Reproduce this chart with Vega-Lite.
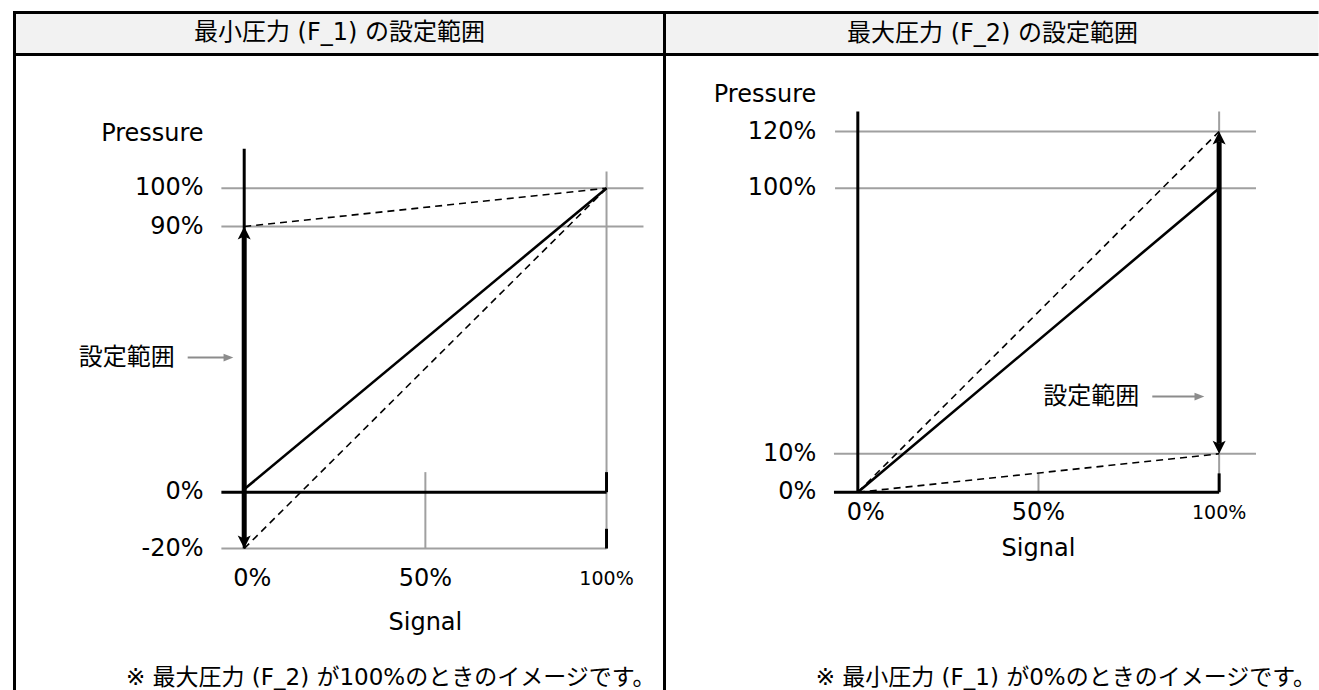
{
  "$schema": "https://vega.github.io/schema/vega-lite/v6.json",
  "usermeta": {"embedOptions": {"actions": false}},
  "padding": {"left": 11.5, "top": 9.5, "right": 0, "bottom": 0},
  "spacing": 0,
  "bounds": "flush",
  "config": {
    "view": {"stroke": null},
    "text": {"font": "DejaVu Sans, Noto Sans CJK JP", "color": "#000000", "fontSize": 24, "baseline": "middle"}
  },
  "datasets": {
    "L_header": [{"s1": -63.4, "s2": 116, "p1": 158, "p2": 144.1}],
    "L_header_text": [{"s": 26.3, "p": 151.1, "t": "最小圧力 (F_1) の設定範囲"}],
    "L_frame_h": [{"p": 158, "s1": -63.4, "s2": 116}, {"p": 144.1, "s1": -63.4, "s2": 116}],
    "L_frame_v": [{"s": -63.4, "p1": 158, "p2": -67}, {"s": 116, "p1": 158, "p2": -67}],
    "L_h_gray": [{"p": 100, "s1": -6.3, "s2": 110.2}, {"p": 90, "s1": -6.3, "s2": 110.2}, {"p": -20, "s1": -6.3, "s2": 100}],
    "L_v_gray": [{"s": 100, "p1": 105.5, "p2": -20}, {"s": 50, "p1": 6.8, "p2": -20}],
    "L_h_black": [{"p": 0, "s1": -6.3, "s2": 100}],
    "L_v_black": [{"s": 0, "p1": 113, "p2": -20}, {"s": 100, "p1": 6.8, "p2": 0}, {"s": 100, "p1": -13, "p2": -20}],
    "L_shaft": [{"s": 0, "p1": 87, "p2": -16.5}],
    "L_head_up": [{"s": 0, "p": 90}],
    "L_head_down": [{"s": 0, "p": -20}],
    "L_solid": [{"s": 0, "p": 1}, {"s": 100, "p": 100}],
    "L_dashed": [{"id": "a", "s": 0, "p": 90}, {"id": "a", "s": 100, "p": 100}, {"id": "b", "s": 0, "p": -20}, {"id": "b", "s": 100, "p": 100}],
    "L_ptr": [{"s1": -15.6, "s2": -5, "p": 45.6}],
    "L_ptr_head": [{"s": -3, "p": 45.6}],
    "L_ylab": [{"p": 100, "t": "100%"}, {"p": 90, "t": "90%"}, {"p": 0, "t": "0%"}, {"p": -20, "t": "-20%"}, {"p": 118, "t": "Pressure"}],
    "L_xlab0": [{"s": 0, "t": "0%"}],
    "L_xlab50": [{"s": 50, "t": "50%"}],
    "L_xlab100": [{"s": 100, "t": "100%"}],
    "L_signal": [{"s": 50, "p": -44.6, "t": "Signal"}],
    "L_range": [{"s": -19.2, "p": 45.6, "t": "設定範囲"}],
    "L_note": [{"s": 113.5, "p": -62.7, "t": "※ 最大圧力 (F_2) が100%のときのイメージです。"}],

    "R_header": [{"s1": -53.5, "s2": 127.5, "p1": 159.1, "p2": 145.3}],
    "R_header_text": [{"s": 37.3, "p": 152.2, "t": "最大圧力 (F_2) の設定範囲"}],
    "R_frame_h": [{"p": 159.1, "s1": -53.5, "s2": 127.5}, {"p": 145.3, "s1": -53.5, "s2": 127.5}],
    "R_frame_v": [{"s": -53.5, "p1": 159.1, "p2": -65.6}],
    "R_h_gray": [{"p": 120, "s1": -6.3, "s2": 110.2}, {"p": 100, "s1": -6.3, "s2": 110.2}, {"p": 10, "s1": -6.6, "s2": 110.2}],
    "R_v_gray": [{"s": 100, "p1": 126.6, "p2": 0}, {"s": 50, "p1": 4.9, "p2": 0}],
    "R_h_black": [{"p": 0, "s1": -6.6, "s2": 100}],
    "R_v_black": [{"s": 0, "p1": 126.6, "p2": 0}, {"s": 100, "p1": 4.9, "p2": 0}],
    "R_shaft": [{"s": 100, "p1": 116.5, "p2": 13.4}],
    "R_head_up": [{"s": 100, "p": 120}],
    "R_head_down": [{"s": 100, "p": 10}],
    "R_solid": [{"s": 0, "p": 0}, {"s": 100, "p": 100}],
    "R_dashed": [{"id": "a", "s": 0, "p": 0}, {"id": "a", "s": 100, "p": 120}, {"id": "b", "s": 0, "p": 0}, {"id": "b", "s": 100, "p": 10}],
    "R_ptr": [{"s1": 81.5, "s2": 94, "p": 29.4}],
    "R_ptr_head": [{"s": 95.9, "p": 29.4}],
    "R_ylab": [{"p": 120, "t": "120%"}, {"p": 100, "t": "100%"}, {"p": 10, "t": "10%"}, {"p": 0, "t": "0%"}, {"p": 132.1, "t": "Pressure"}],
    "R_xlab0": [{"s": 0, "t": "0%"}],
    "R_xlab50": [{"s": 50, "t": "50%"}],
    "R_xlab100": [{"s": 100, "t": "100%"}],
    "R_signal": [{"s": 50, "p": -18.8, "t": "Signal"}],
    "R_range": [{"s": 77.9, "p": 29.4, "t": "設定範囲"}],
    "R_note": [{"s": 126.8, "p": -61.3, "t": "※ 最小圧力 (F_1) が0%のときのイメージです。"}]
  },
  "hconcat": [
    {
      "width": 650,
      "height": 679,
      "layer": [
        {
          "data": {"name": "L_header"},
          "mark": {"type": "rect", "color": "#f2f2f2"},
          "encoding": {
            "x": {"field": "s1", "type": "quantitative", "axis": null, "scale": {"domain": [-63.4, 116], "nice": false, "zero": false}},
            "x2": {"field": "s2"},
            "y": {"field": "p1", "type": "quantitative", "axis": null, "scale": {"domain": [-67, -20, 0, 90, 100, 158], "range": [679, 536, 479.7, 214, 175.7, 0], "nice": false, "zero": false}},
            "y2": {"field": "p2"}
          }
        },
        {
          "data": {"name": "L_header_text"},
          "mark": {"type": "text", "align": "center", "fontSize": 24},
          "encoding": {"x": {"field": "s", "type": "quantitative", "axis": null}, "y": {"field": "p", "type": "quantitative", "axis": null}, "text": {"field": "t"}}
        },
        {
          "data": {"name": "L_h_gray"},
          "mark": {"type": "rule", "color": "#a0a0a0", "strokeWidth": 2},
          "encoding": {"x": {"field": "s1", "type": "quantitative", "axis": null}, "x2": {"field": "s2"}, "y": {"field": "p", "type": "quantitative", "axis": null}}
        },
        {
          "data": {"name": "L_v_gray"},
          "mark": {"type": "rule", "color": "#a0a0a0", "strokeWidth": 2},
          "encoding": {"x": {"field": "s", "type": "quantitative", "axis": null}, "y": {"field": "p1", "type": "quantitative", "axis": null}, "y2": {"field": "p2"}}
        },
        {
          "data": {"name": "L_h_black"},
          "mark": {"type": "rule", "color": "#000000", "strokeWidth": 3},
          "encoding": {"x": {"field": "s1", "type": "quantitative", "axis": null}, "x2": {"field": "s2"}, "y": {"field": "p", "type": "quantitative", "axis": null}}
        },
        {
          "data": {"name": "L_v_black"},
          "mark": {"type": "rule", "color": "#000000", "strokeWidth": 3},
          "encoding": {"x": {"field": "s", "type": "quantitative", "axis": null}, "y": {"field": "p1", "type": "quantitative", "axis": null}, "y2": {"field": "p2"}}
        },
        {
          "data": {"name": "L_dashed"},
          "mark": {"type": "line", "color": "#000000", "strokeWidth": 1.6, "strokeDash": [7, 5]},
          "encoding": {"x": {"field": "s", "type": "quantitative", "axis": null}, "y": {"field": "p", "type": "quantitative", "axis": null}, "detail": {"field": "id"}}
        },
        {
          "data": {"name": "L_solid"},
          "mark": {"type": "line", "color": "#000000", "strokeWidth": 2.6},
          "encoding": {"x": {"field": "s", "type": "quantitative", "axis": null}, "y": {"field": "p", "type": "quantitative", "axis": null}}
        },
        {
          "data": {"name": "L_shaft"},
          "mark": {"type": "rule", "color": "#000000", "strokeWidth": 5},
          "encoding": {"x": {"field": "s", "type": "quantitative", "axis": null}, "y": {"field": "p1", "type": "quantitative", "axis": null}, "y2": {"field": "p2"}}
        },
        {
          "data": {"name": "L_head_up"},
          "mark": {"type": "point", "shape": "M0,0L-0.65,1.3L0,1L0.65,1.3Z", "filled": true, "size": 400, "color": "#000000", "opacity": 1, "strokeWidth": 0},
          "encoding": {"x": {"field": "s", "type": "quantitative", "axis": null}, "y": {"field": "p", "type": "quantitative", "axis": null}}
        },
        {
          "data": {"name": "L_head_down"},
          "mark": {"type": "point", "shape": "M0,0L-0.65,-1.3L0,-1L0.65,-1.3Z", "filled": true, "size": 400, "color": "#000000", "opacity": 1, "strokeWidth": 0},
          "encoding": {"x": {"field": "s", "type": "quantitative", "axis": null}, "y": {"field": "p", "type": "quantitative", "axis": null}}
        },
        {
          "data": {"name": "L_ptr"},
          "mark": {"type": "rule", "color": "#8c8c8c", "strokeWidth": 2},
          "encoding": {"x": {"field": "s1", "type": "quantitative", "axis": null}, "x2": {"field": "s2"}, "y": {"field": "p", "type": "quantitative", "axis": null}}
        },
        {
          "data": {"name": "L_ptr_head"},
          "mark": {"type": "point", "shape": "M0,0L-1.4,-0.55L-1.4,0.55Z", "filled": true, "size": 196, "color": "#8c8c8c", "opacity": 1, "strokeWidth": 0},
          "encoding": {"x": {"field": "s", "type": "quantitative", "axis": null}, "y": {"field": "p", "type": "quantitative", "axis": null}}
        },
        {
          "data": {"name": "L_ylab"},
          "mark": {"type": "text", "align": "right", "fontSize": 24},
          "encoding": {"x": {"datum": -11.2, "type": "quantitative", "axis": null}, "y": {"field": "p", "type": "quantitative", "axis": null}, "text": {"field": "t"}}
        },
        {
          "data": {"name": "L_xlab0"},
          "mark": {"type": "text", "align": "center", "fontSize": 24, "dx": 8},
          "encoding": {"x": {"field": "s", "type": "quantitative", "axis": null}, "y": {"datum": -30, "type": "quantitative", "axis": null}, "text": {"field": "t"}}
        },
        {
          "data": {"name": "L_xlab50"},
          "mark": {"type": "text", "align": "center", "fontSize": 24},
          "encoding": {"x": {"field": "s", "type": "quantitative", "axis": null}, "y": {"datum": -30, "type": "quantitative", "axis": null}, "text": {"field": "t"}}
        },
        {
          "data": {"name": "L_xlab100"},
          "mark": {"type": "text", "align": "center", "fontSize": 19},
          "encoding": {"x": {"field": "s", "type": "quantitative", "axis": null}, "y": {"datum": -30, "type": "quantitative", "axis": null}, "text": {"field": "t"}}
        },
        {
          "data": {"name": "L_signal"},
          "mark": {"type": "text", "align": "center", "fontSize": 24},
          "encoding": {"x": {"field": "s", "type": "quantitative", "axis": null}, "y": {"field": "p", "type": "quantitative", "axis": null}, "text": {"field": "t"}}
        },
        {
          "data": {"name": "L_range"},
          "mark": {"type": "text", "align": "right", "fontSize": 24},
          "encoding": {"x": {"field": "s", "type": "quantitative", "axis": null}, "y": {"field": "p", "type": "quantitative", "axis": null}, "text": {"field": "t"}}
        },
        {
          "data": {"name": "L_note"},
          "mark": {"type": "text", "align": "right", "fontSize": 23},
          "encoding": {"x": {"field": "s", "type": "quantitative", "axis": null}, "y": {"field": "p", "type": "quantitative", "axis": null}, "text": {"field": "t"}}
        },
        {
          "data": {"name": "L_frame_h"},
          "mark": {"type": "rule", "color": "#000000", "strokeWidth": 3, "strokeCap": "square"},
          "encoding": {"x": {"field": "s1", "type": "quantitative", "axis": null}, "x2": {"field": "s2"}, "y": {"field": "p", "type": "quantitative", "axis": null}}
        },
        {
          "data": {"name": "L_frame_v"},
          "mark": {"type": "rule", "color": "#000000", "strokeWidth": 3, "strokeCap": "square"},
          "encoding": {"x": {"field": "s", "type": "quantitative", "axis": null}, "y": {"field": "p1", "type": "quantitative", "axis": null}, "y2": {"field": "p2"}}
        }
      ]
    },
    {
      "width": 654,
      "height": 679,
      "layer": [
        {
          "data": {"name": "R_header"},
          "mark": {"type": "rect", "color": "#f2f2f2"},
          "encoding": {
            "x": {"field": "s1", "type": "quantitative", "axis": null, "scale": {"domain": [-53.5, 127.5], "nice": false, "zero": false}},
            "x2": {"field": "s2"},
            "y": {"field": "p1", "type": "quantitative", "axis": null, "scale": {"domain": [-65.6, 0, 10, 100, 120, 159.1], "range": [679, 479.7, 441.3, 175.7, 119, 0], "nice": false, "zero": false}},
            "y2": {"field": "p2"}
          }
        },
        {
          "data": {"name": "R_header_text"},
          "mark": {"type": "text", "align": "center", "fontSize": 24},
          "encoding": {"x": {"field": "s", "type": "quantitative", "axis": null}, "y": {"field": "p", "type": "quantitative", "axis": null}, "text": {"field": "t"}}
        },
        {
          "data": {"name": "R_h_gray"},
          "mark": {"type": "rule", "color": "#a0a0a0", "strokeWidth": 2},
          "encoding": {"x": {"field": "s1", "type": "quantitative", "axis": null}, "x2": {"field": "s2"}, "y": {"field": "p", "type": "quantitative", "axis": null}}
        },
        {
          "data": {"name": "R_v_gray"},
          "mark": {"type": "rule", "color": "#a0a0a0", "strokeWidth": 2},
          "encoding": {"x": {"field": "s", "type": "quantitative", "axis": null}, "y": {"field": "p1", "type": "quantitative", "axis": null}, "y2": {"field": "p2"}}
        },
        {
          "data": {"name": "R_h_black"},
          "mark": {"type": "rule", "color": "#000000", "strokeWidth": 3},
          "encoding": {"x": {"field": "s1", "type": "quantitative", "axis": null}, "x2": {"field": "s2"}, "y": {"field": "p", "type": "quantitative", "axis": null}}
        },
        {
          "data": {"name": "R_v_black"},
          "mark": {"type": "rule", "color": "#000000", "strokeWidth": 3},
          "encoding": {"x": {"field": "s", "type": "quantitative", "axis": null}, "y": {"field": "p1", "type": "quantitative", "axis": null}, "y2": {"field": "p2"}}
        },
        {
          "data": {"name": "R_dashed"},
          "mark": {"type": "line", "color": "#000000", "strokeWidth": 1.6, "strokeDash": [7, 5]},
          "encoding": {"x": {"field": "s", "type": "quantitative", "axis": null}, "y": {"field": "p", "type": "quantitative", "axis": null}, "detail": {"field": "id"}}
        },
        {
          "data": {"name": "R_solid"},
          "mark": {"type": "line", "color": "#000000", "strokeWidth": 2.6},
          "encoding": {"x": {"field": "s", "type": "quantitative", "axis": null}, "y": {"field": "p", "type": "quantitative", "axis": null}}
        },
        {
          "data": {"name": "R_shaft"},
          "mark": {"type": "rule", "color": "#000000", "strokeWidth": 5},
          "encoding": {"x": {"field": "s", "type": "quantitative", "axis": null}, "y": {"field": "p1", "type": "quantitative", "axis": null}, "y2": {"field": "p2"}}
        },
        {
          "data": {"name": "R_head_up"},
          "mark": {"type": "point", "shape": "M0,0L-0.65,1.3L0,1L0.65,1.3Z", "filled": true, "size": 400, "color": "#000000", "opacity": 1, "strokeWidth": 0},
          "encoding": {"x": {"field": "s", "type": "quantitative", "axis": null}, "y": {"field": "p", "type": "quantitative", "axis": null}}
        },
        {
          "data": {"name": "R_head_down"},
          "mark": {"type": "point", "shape": "M0,0L-0.65,-1.3L0,-1L0.65,-1.3Z", "filled": true, "size": 400, "color": "#000000", "opacity": 1, "strokeWidth": 0},
          "encoding": {"x": {"field": "s", "type": "quantitative", "axis": null}, "y": {"field": "p", "type": "quantitative", "axis": null}}
        },
        {
          "data": {"name": "R_ptr"},
          "mark": {"type": "rule", "color": "#8c8c8c", "strokeWidth": 2},
          "encoding": {"x": {"field": "s1", "type": "quantitative", "axis": null}, "x2": {"field": "s2"}, "y": {"field": "p", "type": "quantitative", "axis": null}}
        },
        {
          "data": {"name": "R_ptr_head"},
          "mark": {"type": "point", "shape": "M0,0L-1.4,-0.55L-1.4,0.55Z", "filled": true, "size": 196, "color": "#8c8c8c", "opacity": 1, "strokeWidth": 0},
          "encoding": {"x": {"field": "s", "type": "quantitative", "axis": null}, "y": {"field": "p", "type": "quantitative", "axis": null}}
        },
        {
          "data": {"name": "R_ylab"},
          "mark": {"type": "text", "align": "right", "fontSize": 24},
          "encoding": {"x": {"datum": -11.5, "type": "quantitative", "axis": null}, "y": {"field": "p", "type": "quantitative", "axis": null}, "text": {"field": "t"}}
        },
        {
          "data": {"name": "R_xlab0"},
          "mark": {"type": "text", "align": "center", "fontSize": 24, "dx": 8},
          "encoding": {"x": {"field": "s", "type": "quantitative", "axis": null}, "y": {"datum": -6.7, "type": "quantitative", "axis": null}, "text": {"field": "t"}}
        },
        {
          "data": {"name": "R_xlab50"},
          "mark": {"type": "text", "align": "center", "fontSize": 24},
          "encoding": {"x": {"field": "s", "type": "quantitative", "axis": null}, "y": {"datum": -6.7, "type": "quantitative", "axis": null}, "text": {"field": "t"}}
        },
        {
          "data": {"name": "R_xlab100"},
          "mark": {"type": "text", "align": "center", "fontSize": 19},
          "encoding": {"x": {"field": "s", "type": "quantitative", "axis": null}, "y": {"datum": -6.7, "type": "quantitative", "axis": null}, "text": {"field": "t"}}
        },
        {
          "data": {"name": "R_signal"},
          "mark": {"type": "text", "align": "center", "fontSize": 24},
          "encoding": {"x": {"field": "s", "type": "quantitative", "axis": null}, "y": {"field": "p", "type": "quantitative", "axis": null}, "text": {"field": "t"}}
        },
        {
          "data": {"name": "R_range"},
          "mark": {"type": "text", "align": "right", "fontSize": 24},
          "encoding": {"x": {"field": "s", "type": "quantitative", "axis": null}, "y": {"field": "p", "type": "quantitative", "axis": null}, "text": {"field": "t"}}
        },
        {
          "data": {"name": "R_note"},
          "mark": {"type": "text", "align": "right", "fontSize": 23},
          "encoding": {"x": {"field": "s", "type": "quantitative", "axis": null}, "y": {"field": "p", "type": "quantitative", "axis": null}, "text": {"field": "t"}}
        },
        {
          "data": {"name": "R_frame_h"},
          "mark": {"type": "rule", "color": "#000000", "strokeWidth": 3, "strokeCap": "butt"},
          "encoding": {"x": {"field": "s1", "type": "quantitative", "axis": null}, "x2": {"field": "s2"}, "y": {"field": "p", "type": "quantitative", "axis": null}}
        },
        {
          "data": {"name": "R_frame_v"},
          "mark": {"type": "rule", "color": "#000000", "strokeWidth": 3, "strokeCap": "square"},
          "encoding": {"x": {"field": "s", "type": "quantitative", "axis": null}, "y": {"field": "p1", "type": "quantitative", "axis": null}, "y2": {"field": "p2"}}
        }
      ]
    }
  ]
}
